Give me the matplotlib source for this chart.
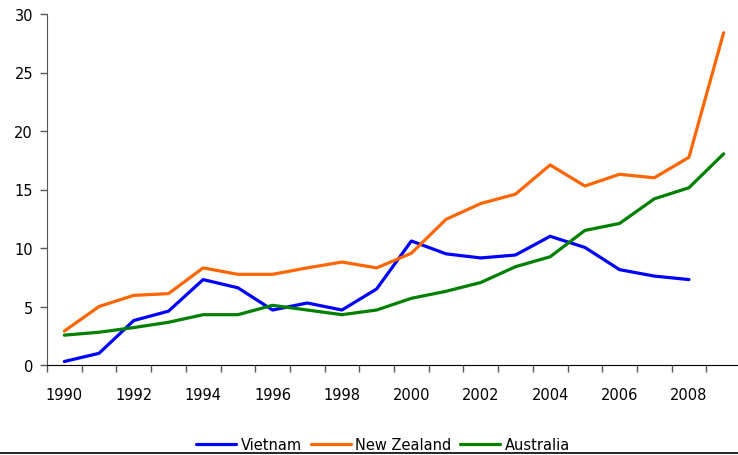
import matplotlib
matplotlib.use("Agg")
import matplotlib.pyplot as plt
from matplotlib.lines import Line2D

years = list(range(1990, 2010))
vietnam = [0.3, 1.0, 3.8, 4.6, 7.3, 6.6, 4.7, 5.3, 4.7, 6.5,
           10.6, 9.5, 9.15, 9.4, 11.0, 10.05, 8.15, 7.6, 7.3, None]
new_zealand = [2.9, 5.0, 5.95, 6.1, 8.3, 7.75, 7.75, 8.3, 8.8, 8.3,
               9.55, 12.45, 13.8, 14.6, 17.1, 15.3, 16.3, 16.0, 17.75, 28.4]
australia = [2.55, 2.8, 3.2, 3.65, 4.3, 4.3, 5.1, 4.7, 4.3, 4.7,
             5.7, 6.3, 7.05, 8.4, 9.25, 11.5, 12.1, 14.2, 15.15, 18.05]
series_names = ["Vietnam", "New Zealand", "Australia"]
colors = ["#0000FF", "#FF6600", "#008000"]
y_ticks = [0, 5, 10, 15, 20, 25, 30]

W, H = 738, 456
fig = plt.figure(figsize=(W / 100, H / 100), dpi=100)
ax = fig.add_axes([47 / W, 1 - 366 / H, 694 / W, (366 - 15) / H])

x = list(range(len(years)))
handles = []
for vals, name, c in zip([vietnam, new_zealand, australia], series_names, colors):
    xs = [i for i, v in zip(x, vals) if v is not None]
    ys = [v for v in vals if v is not None]
    h, = ax.plot(xs, ys, color=c, lw=2.3, label=name, solid_capstyle="round",
                 solid_joinstyle="round")
    handles.append(h)

ax.set_xlim(-0.5, len(years) - 0.5)
ax.set_ylim(0, 30)
ax.set_yticks(y_ticks)
ax.set_yticklabels([str(t) for t in y_ticks])

major = [i for i in x if years[i] % 2 == 0]
ax.set_xticks(major)
ax.set_xticklabels([str(years[i]) for i in major])
ax.set_xticks([i - 0.5 for i in range(len(years) + 1)], minor=True)
ax.tick_params(axis="x", which="major", length=0, pad=16, labelsize=10.5, colors="#000000")
ax.tick_params(axis="x", which="minor", length=5, color="#555555", width=1)
ax.tick_params(axis="y", length=5, color="#555555", width=1, labelsize=10.5, pad=5)

for s in ["top", "right"]:
    ax.spines[s].set_visible(False)
ax.spines["left"].set_color("#555555")
ax.spines["bottom"].set_color("#000000")

fig.legend(handles=handles, labels=series_names, loc="center",
           bbox_to_anchor=(383 / W, 1 - 446 / H), ncol=3, frameon=False,
           fontsize=10.5, handlelength=2.75, handletextpad=0.3, columnspacing=0.6,
           borderpad=0.1)

fig.add_artist(Line2D([0, 1], [1 - 453.5 / H, 1 - 453.5 / H], transform=fig.transFigure,
                      color="#000000", lw=1.2))

fig.savefig("out.png", dpi=100)
